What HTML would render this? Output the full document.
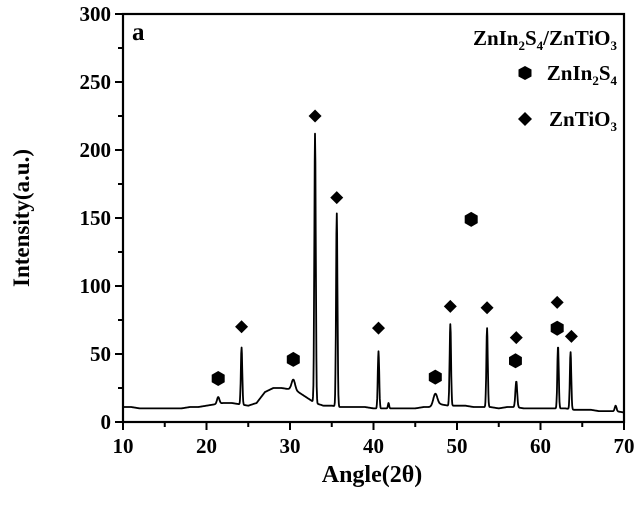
<!DOCTYPE html>
<html><head><meta charset="utf-8"><style>
body{margin:0;background:#fff;}
svg text{font-family:"Liberation Serif",serif;font-weight:bold;fill:#000;}
</style></head><body>
<svg id="chart" width="639" height="500" viewBox="0 0 639 500">
<g id="plot"></g>
</svg>
<script>
const xTicks=[10,20,30,40,50,60,70];
const yTicks=[0,50,100,150,200,250,300];
// background intensity read every 1 degree from 10 to 70
const bgAngles=[10,11,12,13,14,15,16,17,18,19,20,21,22,23,24,25,26,27,28,29,30,31,32,33,34,35,36,37,38,39,40,41,42,43,44,45,46,47,48,49,50,51,52,53,54,55,56,57,58,59,60,61,62,63,64,65,66,67,68,69,70];
const bgValues=[11,11,10,10,10,10,10,10,11,11,12,13,14,14,13,12,14,22,25,25,24,22,18,14,12,12,11,11,11,11,10,10,10,10,10,10,11,11,13,12,12,12,11,11,11,10,11,11,10,10,10,10,10,10,9,9,9,8,8,8,7];
const peakCenters=[21.4,24.2,30.4,33.0,35.6,40.6,41.8,47.4,49.2,53.6,57.1,62.1,63.6,69.0];
const peakHeights=[5,42,8,198,142,42,4,9,60,58,19,46,42,4];
const peakWidths=[0.2,0.12,0.3,0.12,0.12,0.12,0.1,0.35,0.12,0.12,0.15,0.12,0.12,0.15];
const diamondAngles=[24.2,33.0,35.6,40.6,49.2,53.6,57.1,62.0,63.7];
const diamondValues=[70,225,165,69,85,84,62,88,63];
const hexAngles=[21.4,30.4,47.4,51.7,57.0,62.0];
const hexValues=[32,46,33,149,45,69];

const L=123,R=624,T=14,B=422;
const xs=v=>L+(v-10)/60*(R-L);
const ys=v=>B-v/300*(B-T);
const NS="http://www.w3.org/2000/svg";
const g=document.getElementById('plot');
function mk(tag,attrs){const e=document.createElementNS(NS,tag);for(const k in attrs)e.setAttribute(k,attrs[k]);g.appendChild(e);return e;}

let d="";
for(let a=10;a<=70.001;a+=0.04){
  const i=Math.min(bgAngles.length-2,Math.floor(a-10));
  const f=(a-bgAngles[i]);
  let v=bgValues[i]*(1-f)+bgValues[i+1]*f;
  for(let k=0;k<peakCenters.length;k++){const z=(a-peakCenters[k])/peakWidths[k];v+=peakHeights[k]*Math.exp(-z*z);}
  d+=(d?"L":"M")+xs(a).toFixed(1)+","+ys(v).toFixed(1);
}
const line=mk('path',{d:d,fill:'none',stroke:'#000','stroke-width':1.8,'stroke-linejoin':'round'});



function diamond(x,y,s){return `M${x},${y-s}L${x+s},${y}L${x},${y+s}L${x-s},${y}Z`;}
function hex(x,y,r){let p="";for(let k=0;k<6;k++){const an=Math.PI/3*k+Math.PI/6;p+=(k?"L":"M")+(x+r*Math.cos(an)).toFixed(1)+","+(y+r*Math.sin(an)).toFixed(1);}return p+"Z";}
diamondAngles.forEach((a,i)=>{const e=mk('path',{d:diamond(xs(a),ys(diamondValues[i]),6.5),fill:'#000'});

});
hexAngles.forEach((a,i)=>{const e=mk('path',{d:hex(xs(a),ys(hexValues[i]),7.5),fill:'#000'});

});

const fr=mk('rect',{x:L,y:T,width:R-L,height:B-T,fill:'none',stroke:'#000','stroke-width':2.2});


for(let v=10;v<=70;v+=5){const maj=v%10===0;mk('line',{x1:xs(v),x2:xs(v),y1:B,y2:B+(maj?8:5),stroke:'#000','stroke-width':2});}
for(let v=0;v<=300;v+=25){const maj=v%50===0;mk('line',{x1:L,x2:L-(maj?8:5),y1:ys(v),y2:ys(v),stroke:'#000','stroke-width':2});}
xTicks.forEach(v=>{const t=mk('text',{x:xs(v),y:B+31,'text-anchor':'middle','font-size':21});t.textContent=v;

});
yTicks.forEach(v=>{const t=mk('text',{x:L-12,y:ys(v)+7,'text-anchor':'end','font-size':21});t.textContent=v;

});
</script>
<svg width="639" height="500" style="position:absolute;left:0;top:0">
<text x="372" y="482" text-anchor="middle" font-size="24">Angle(2θ)</text>
<text transform="translate(29,218) rotate(-90)" text-anchor="middle" font-size="23">Intensity(a.u.)</text>
<text x="132" y="40" font-size="25">a</text>
<text x="617" y="45" text-anchor="end" font-size="21">ZnIn<tspan font-size="13" dy="5">2</tspan><tspan dy="-5">S</tspan><tspan font-size="13" dy="5">4</tspan><tspan dy="-5">/ZnTiO</tspan><tspan font-size="13" dy="5">3</tspan></text>
<g>
<path d="M525,66L531.5,69.5L531.5,76.5L525,80L518.5,76.5L518.5,69.5Z" fill="#000"/>
<text x="617" y="80" text-anchor="end" font-size="21">ZnIn<tspan font-size="13" dy="5">2</tspan><tspan dy="-5">S</tspan><tspan font-size="13" dy="5">4</tspan></text>
</g>
<g>
<path d="M525,112L532,119L525,126L518,119Z" fill="#000"/>
<text x="617" y="126" text-anchor="end" font-size="21">ZnTiO<tspan font-size="13" dy="5">3</tspan></text>
</g>
</svg>
</body></html>
